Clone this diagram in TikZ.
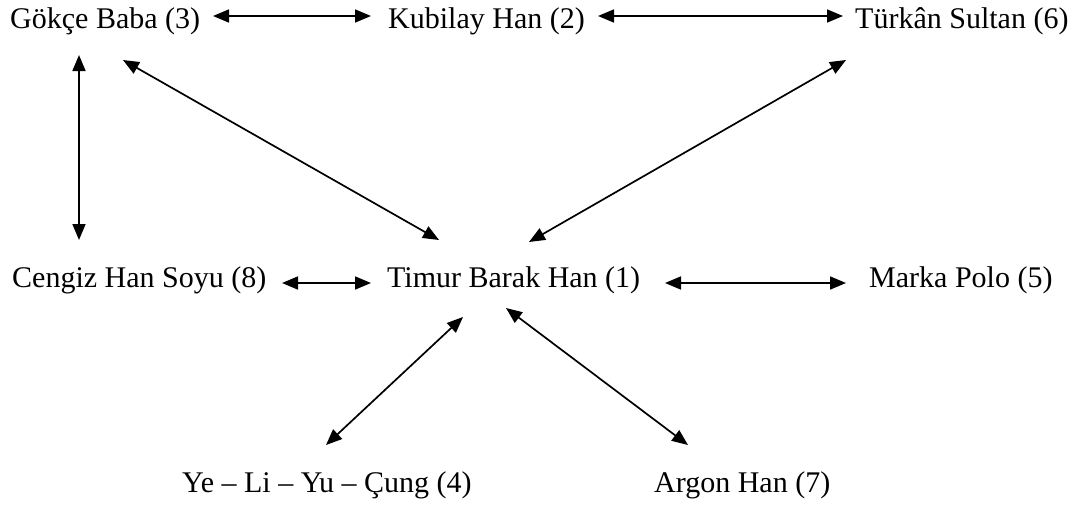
\documentclass[tikz,border=0pt]{standalone}
\usepackage{fontspec}
\setmainfont{Liberation Serif}
\usetikzlibrary{arrows.meta}
\begin{document}
\begin{tikzpicture}[x=1pt,y=-1pt,
  person/.style={font=\fontsize{30}{36}\selectfont, inner sep=0pt, anchor=base west},
  link/.style={line width=1.7pt,
    {Triangle[length=16pt,width=13pt]}-{Triangle[length=16pt,width=13pt]}}]
\useasboundingbox (0,0) rectangle (1073,506);

% people
\node[person] (p3) at (10,28)   {Gökçe Baba (3)};
\node[person] (p2) at (388,28)  {Kubilay Han (2)};
\node[person] (p6) at (855,28)  {Türkân Sultan (6)};
\node[person] (p8) at (12,287)  {Cengiz Han Soyu (8)};
\node[person] (p1) at (387,287) {Timur Barak Han (1)};
\node[person] (p5) at (869,287) {Marka Polo (5)};
\node[person] (p4) at (182,492) {Ye – Li – Yu – Çung (4)};
\node[person] (p7) at (654,492) {Argon Han (7)};

% arrow ends
\coordinate (p3e) at (213,16);  \coordinate (p2w) at (371,16);
\coordinate (p2e) at (598,16);  \coordinate (p6w) at (843,16);
\coordinate (p3s) at (79,55);   \coordinate (p8n) at (79,240);
\coordinate (p3se) at (123,60); \coordinate (p1nw) at (439,240);
\coordinate (p6sw) at (846,60); \coordinate (p1ne) at (529,242);
\coordinate (p8e) at (282,283); \coordinate (p1w) at (371,283);
\coordinate (p1e) at (665,283); \coordinate (p5w) at (846,283);
\coordinate (p1sw) at (463,317); \coordinate (p4n) at (326,445);
\coordinate (p1se) at (506,308); \coordinate (p7n) at (688,445);

% relations
\draw[link] (p3e) -- (p2w);
\draw[link] (p2e) -- (p6w);
\draw[link] (p3s) -- (p8n);
\draw[link] (p3se) -- (p1nw);
\draw[link] (p6sw) -- (p1ne);
\draw[link] (p8e) -- (p1w);
\draw[link] (p1e) -- (p5w);
\draw[link] (p1sw) -- (p4n);
\draw[link] (p1se) -- (p7n);
\end{tikzpicture}
\end{document}
